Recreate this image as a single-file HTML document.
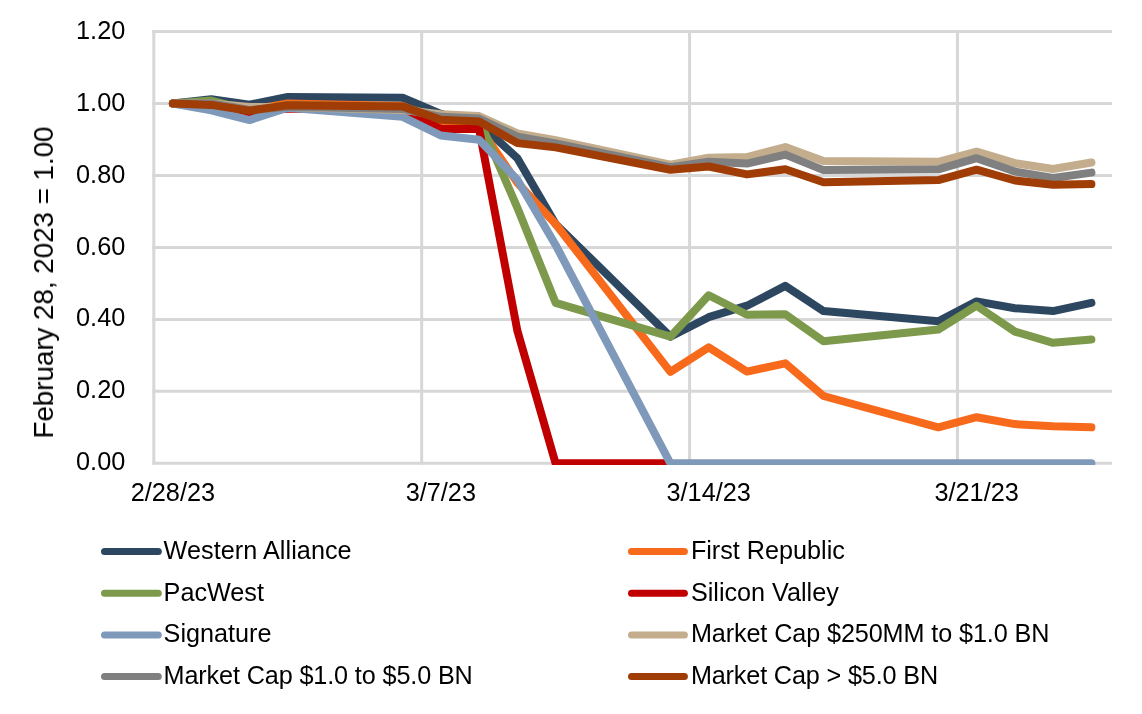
<!DOCTYPE html>
<html lang="en">
<head>
<meta charset="utf-8">
<title>Regional bank share prices indexed to February 28, 2023</title>
<style>
html,body{margin:0;padding:0;background:#fff;}
body{width:1142px;height:714px;overflow:hidden;font-family:"Liberation Sans",sans-serif;}
svg{display:block;will-change:transform;}
.txt{filter:grayscale(1);}
svg text{font-family:"Liberation Sans",sans-serif;fill:#000;}
.ax{font-size:25.3px;}
.ttl{font-size:28px;letter-spacing:-0.13px;}
.lg{font-size:25.2px;}
.grid line{stroke:#d7d7d7;stroke-width:3.0;}
.ser polyline{fill:none;stroke-width:8.0;stroke-linejoin:round;stroke-linecap:round;}
.key line{stroke-width:7.0;stroke-linecap:round;}
</style>
</head>
<body>
<svg width="1142" height="714" viewBox="0 0 1142 714">
<rect x="0" y="0" width="1142" height="714" fill="#ffffff"/>
<defs><clipPath id="plot"><rect x="140" y="20" width="990" height="445.1"/></clipPath></defs>
<g class="grid">
<line x1="152.3" y1="463.30" x2="1112.0" y2="463.30"/>
<line x1="152.3" y1="391.34" x2="1112.0" y2="391.34"/>
<line x1="152.3" y1="319.38" x2="1112.0" y2="319.38"/>
<line x1="152.3" y1="247.42" x2="1112.0" y2="247.42"/>
<line x1="152.3" y1="175.46" x2="1112.0" y2="175.46"/>
<line x1="152.3" y1="103.50" x2="1112.0" y2="103.50"/>
<line x1="152.3" y1="31.54" x2="1112.0" y2="31.54"/>
<line x1="153.80" y1="30.04" x2="153.80" y2="464.80"/>
<line x1="421.69" y1="30.04" x2="421.69" y2="464.80"/>
<line x1="689.58" y1="30.04" x2="689.58" y2="464.80"/>
<line x1="957.47" y1="30.04" x2="957.47" y2="464.80"/>
</g>
<g class="ser" clip-path="url(#plot)">
<polyline stroke="#2e4761" points="172.9,103.5 211.2,99.2 249.5,104.6 287.7,97.0 402.6,97.7 440.8,113.9 479.1,123.3 517.4,158.2 555.6,224.0 670.4,336.7 708.7,317.2 747.0,305.7 785.3,285.9 823.5,311.1 938.3,321.2 976.6,301.4 1014.9,308.2 1053.1,311.1 1091.4,302.8"/>
<polyline stroke="#f86a1b" points="172.9,103.5 211.2,104.9 249.5,110.0 287.7,103.5 402.6,106.0 440.8,122.6 479.1,126.9 517.4,182.7 555.6,224.0 670.4,371.9 708.7,347.4 747.0,371.6 785.3,363.3 823.5,396.0 938.3,427.3 976.6,417.2 1014.9,424.1 1053.1,426.2 1091.4,427.3"/>
<polyline stroke="#7d994b" points="172.9,103.5 211.2,100.6 249.5,110.7 287.7,105.3 402.6,107.1 440.8,117.2 479.1,119.7 517.4,207.8 555.6,302.8 670.4,336.7 708.7,295.3 747.0,314.7 785.3,314.3 823.5,341.3 938.3,329.5 976.6,305.7 1014.9,331.6 1053.1,342.8 1091.4,339.5"/>
<polyline stroke="#c00000" points="172.9,103.5 211.2,107.1 249.5,112.9 287.7,108.5 402.6,108.9 440.8,129.0 479.1,129.0 517.4,330.9 555.6,463.3 670.4,463.3"/>
<polyline stroke="#7f99ba" points="172.9,103.5 211.2,110.3 249.5,120.1 287.7,107.8 402.6,116.8 440.8,135.5 479.1,139.8 517.4,179.8 555.6,244.9 670.4,463.3 708.7,463.3 747.0,463.3 785.3,463.3 823.5,463.3 938.3,463.3 976.6,463.3 1014.9,463.3 1053.1,463.3 1091.4,463.3"/>
<polyline stroke="#c3ad8c" points="172.9,103.5 211.2,103.5 249.5,107.1 287.7,107.1 402.6,110.0 440.8,114.3 479.1,116.1 517.4,133.4 555.6,140.2 670.4,164.7 708.7,157.8 747.0,157.1 785.3,147.0 823.5,161.1 938.3,161.8 976.6,151.7 1014.9,163.2 1053.1,169.0 1091.4,162.5"/>
<polyline stroke="#808080" points="172.9,103.5 211.2,103.5 249.5,110.0 287.7,106.7 402.6,108.9 440.8,116.8 479.1,118.6 517.4,136.6 555.6,143.4 670.4,167.2 708.7,161.8 747.0,163.6 785.3,154.6 823.5,170.1 938.3,169.3 976.6,158.2 1014.9,171.5 1053.1,178.0 1091.4,172.6"/>
<polyline stroke="#a03c05" points="172.9,103.5 211.2,104.9 249.5,110.7 287.7,105.3 402.6,106.4 440.8,119.7 479.1,121.5 517.4,143.1 555.6,147.4 670.4,169.7 708.7,166.5 747.0,174.4 785.3,169.3 823.5,182.3 938.3,180.1 976.6,169.7 1014.9,180.5 1053.1,184.8 1091.4,184.1"/>
</g>
<g class="txt">
<g class="ax" text-anchor="end">
<text x="125.3" y="470.0">0.00</text>
<text x="125.3" y="398.1">0.20</text>
<text x="125.3" y="326.3">0.40</text>
<text x="125.3" y="254.5">0.60</text>
<text x="125.3" y="182.6">0.80</text>
<text x="125.3" y="110.8">1.00</text>
<text x="125.3" y="38.9">1.20</text>
</g>
<g class="ax" text-anchor="middle">
<text x="172.9" y="500.9">2/28/23</text>
<text x="440.8" y="500.9">3/7/23</text>
<text x="708.7" y="500.9">3/14/23</text>
<text x="976.6" y="500.9">3/21/23</text>
</g>
<text class="ttl" text-anchor="middle" transform="translate(53.0 282.6) rotate(-90)">February 28, 2023 = 1.00</text>
</g>
<g class="key">
<line x1="104.5" y1="551.5" x2="158.3" y2="551.5" stroke="#2e4761"/>
<line x1="631.5" y1="551.5" x2="684.4" y2="551.5" stroke="#f86a1b"/>
<line x1="104.5" y1="593.2" x2="158.3" y2="593.2" stroke="#7d994b"/>
<line x1="631.5" y1="593.2" x2="684.4" y2="593.2" stroke="#c00000"/>
<line x1="104.5" y1="634.9" x2="158.3" y2="634.9" stroke="#7f99ba"/>
<line x1="631.5" y1="634.9" x2="684.4" y2="634.9" stroke="#c3ad8c"/>
<line x1="104.5" y1="676.5" x2="158.3" y2="676.5" stroke="#808080"/>
<line x1="631.5" y1="676.5" x2="684.4" y2="676.5" stroke="#a03c05"/>
</g>
<g class="txt">
<g class="lg">
<text x="163.6" y="558.8" textLength="188.0" lengthAdjust="spacing">Western Alliance</text>
<text x="690.9" y="558.8">First Republic</text>
<text x="163.6" y="600.5">PacWest</text>
<text x="690.9" y="600.5">Silicon Valley</text>
<text x="163.6" y="642.1">Signature</text>
<text x="690.9" y="642.1" textLength="358.5" lengthAdjust="spacing">Market Cap $250MM to $1.0 BN</text>
<text x="163.6" y="683.8" textLength="309.2" lengthAdjust="spacing">Market Cap $1.0 to $5.0 BN</text>
<text x="690.9" y="683.8" textLength="247.2" lengthAdjust="spacing">Market Cap &gt; $5.0 BN</text>
</g>
</g>
</svg>
</body>
</html>
